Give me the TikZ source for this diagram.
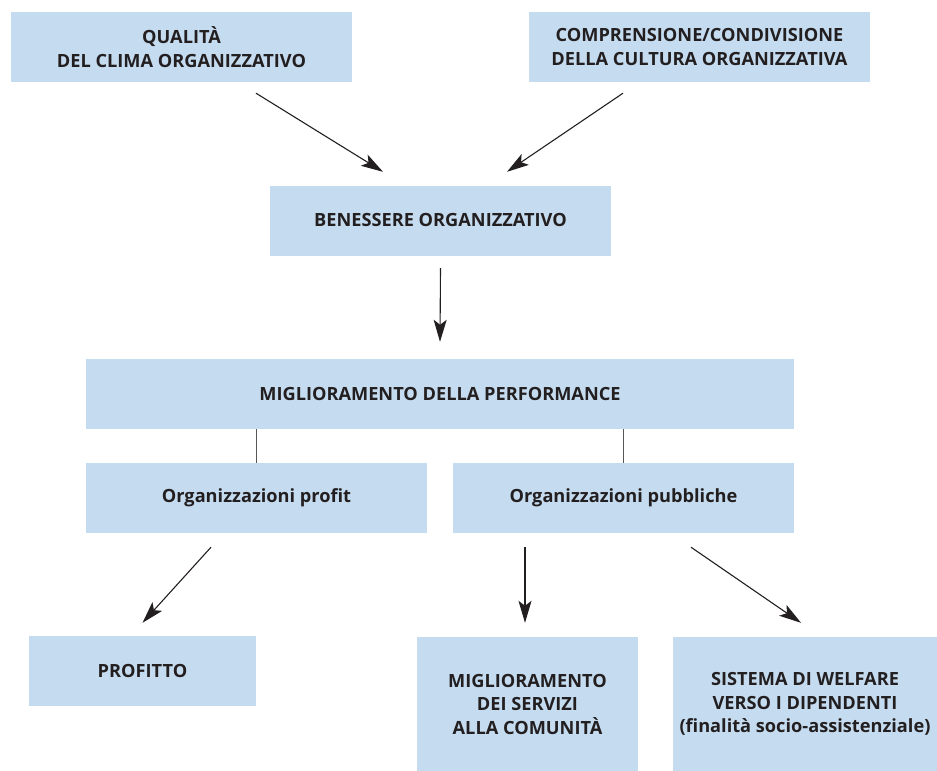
\documentclass[tikz,border=0pt]{standalone}
\usepackage{fontspec}
\setmainfont{Open Sans}
\usetikzlibrary{arrows.meta}
\definecolor{boxblue}{RGB}{197,220,240}
\definecolor{ink}{RGB}{35,31,32}
\begin{document}
\begin{tikzpicture}[x=1pt,y=-1pt,
    box/.style={rectangle,fill=boxblue,text=ink,inner sep=0pt,align=center,
      font=\bfseries\fontsize{18.2}{23.5}\selectfont,minimum width=341pt,minimum height=70pt},
    arr/.style={-{Stealth[length=22pt,width=13pt,inset=5pt]},line width=1.1pt,draw=ink},
    link/.style={line width=1.4pt,draw=ink!75}]
  \useasboundingbox (0,0) rectangle (937,771);
  \node[box] (clima) at (181.5,47) {QUALITÀ\\DEL CLIMA ORGANIZZATIVO};
  \node[box] (cultura) at (699.5,47) {COMPRENSIONE/CONDIVISIONE\\DELLA CULTURA ORGANIZZATIVA};
  \node[box] (benessere) at (440.5,221) {\raisebox{2pt}{BENESSERE ORGANIZZATIVO}};
  \node[box,minimum width=708pt] (performance) at (440,394) {MIGLIORAMENTO DELLA PERFORMANCE};
  \node[box] (profit) at (256.5,498) {Organizzazioni profit};
  \node[box] (pubbliche) at (623.5,498) {Organizzazioni pubbliche};
  \node[box,minimum width=227pt] (profitto) at (142.5,671) {PROFITTO};
  \node[box,minimum width=221pt,minimum height=134pt] (servizi) at (527.5,704)
    {MIGLIORAMENTO\\DEI SERVIZI\\ALLA COMUNITÀ};
  \node[box,minimum width=264pt,minimum height=134pt] (welfare) at (805,704)
    {SISTEMA DI WELFARE\\VERSO I DIPENDENTI\\(finalità socio-assistenziale)};
  % frecce
  \begin{scope}[arr]
    \draw ([xshift=74.5pt,yshift=-11pt]clima.south) -- ([xshift=-57.5pt,yshift=14pt]benessere.north);
    \draw ([xshift=-76.5pt,yshift=-11pt]cultura.south) -- ([xshift=66.5pt,yshift=14pt]benessere.north);
    \draw ([yshift=-12pt]benessere.south) -- ([yshift=17pt]performance.north);
    \draw ([xshift=-45.5pt,yshift=-14pt]profit.south) -- ([yshift=13pt]profitto.north);
    \draw ([xshift=-98.5pt,yshift=-14pt]pubbliche.south) -- ([xshift=-2.5pt,yshift=14pt]servizi.north);
    \draw ([xshift=67.5pt,yshift=-14pt]pubbliche.south) -- ([xshift=-4pt,yshift=14pt]welfare.north);
  \end{scope}
  \draw[link] (performance.south -| profit.north) -- (profit.north);
  \draw[link] (performance.south -| pubbliche.north) -- (pubbliche.north);
\end{tikzpicture}
\end{document}
